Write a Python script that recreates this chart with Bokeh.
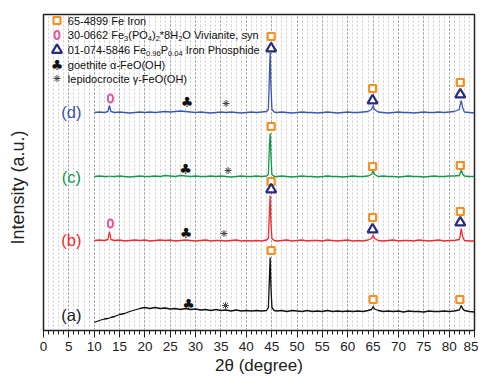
from bokeh.plotting import figure
from bokeh.models import Range1d, SingleIntervalTicker
from bokeh.core.properties import value
from bokeh.embed import file_html
from bokeh.resources import INLINE

FONT = "Liberation Sans"

# 2-theta sample positions (degree)
two_theta = [10, 11, 12, 12.7, 13.0, 13.3,
             14, 15, 16, 17, 18, 19, 20, 21, 22, 23, 24, 25, 26, 27, 28, 29, 30,
             31, 32, 33, 34, 35, 36, 37, 38, 39, 40, 41, 42, 43, 44,
             44.35, 44.55, 44.7, 44.85, 45.05, 45.5,
             46, 47, 48, 49, 50, 51, 52, 53, 54, 55, 56, 57, 58, 59, 60, 61, 62, 63, 64,
             64.7, 65.0, 65.3,
             66, 67, 68, 69, 70, 71, 72, 73, 74, 75, 76, 77, 78, 79, 80, 81, 82,
             82.15, 82.4, 82.65,
             83, 84, 85]

# intensities (a.u., offset stacked)
int_a = [8, 10, 11.5, 12, 12.5, 13,
         14, 16, 17, 19, 20.5, 22, 23, 22, 23, 22, 22.5, 21.5, 22, 21, 22, 21, 21.5,
         20.5, 21, 20, 21, 20, 20.5, 19.5, 20.5, 19.5, 20, 19.5, 20, 19.5, 20,
         23, 52, 73, 44, 23, 20,
         19.5, 20, 19, 20, 19.5, 19, 20, 19, 19.5, 19, 20, 19, 19.5, 19, 19.5, 19, 19.5, 19, 20,
         21, 24, 21.5,
         20, 19, 19.5, 19, 19.5, 18.5, 19.5, 19, 19, 18.5, 19.5, 19, 19, 19.5, 19, 19.5, 20.5,
         22, 25, 22,
         20, 19, 18.5]

int_b = [90, 90.5, 90, 91, 99, 91,
         90, 90.5, 89.5, 90, 90.5, 90, 90.5, 89.5, 90, 90.5, 90, 90.5, 89.5, 90, 90.5, 90, 89.5,
         90, 90.5, 89.5, 90, 90, 89.5, 90, 90.5, 89.5, 90, 89.5, 90, 89.5, 90.5,
         92, 118, 135, 108, 92, 90,
         89.5, 90, 90.5, 89.5, 90, 90.5, 89.5, 90, 90, 89.5, 90.5, 90, 89.5, 90, 90.5, 89.5, 90, 89.5, 90.5,
         92, 95.5, 92,
         90, 89.5, 90, 90.5, 89.5, 90, 90, 89.5, 90.5, 90, 89.5, 90, 90.5, 89.5, 90, 90, 91,
         94, 102, 94,
         90, 89.5, 89.5]

int_c = [154, 154.5, 154, 154, 154.5, 154,
         154, 154.5, 154, 153.5, 154, 154.5, 154, 154, 154.5, 154, 155, 154.5, 154, 155, 154.5, 154, 154.5,
         154, 154, 154.5, 154, 154.5, 154, 153.5, 154, 154.5, 154, 154, 154.5, 154, 154.5,
         156, 185, 197, 175, 156, 154,
         154, 154.5, 154, 153.5, 154, 154.5, 154, 154, 153.5, 154, 154.5, 154, 154, 153.5, 154, 154.5, 154, 154, 154.5,
         156, 160, 156,
         154, 154.5, 154, 154, 153.5, 154, 154.5, 154, 154, 153.5, 154, 154.5, 154, 154, 154.5, 154.5, 155,
         157, 160.5, 156.5,
         154.5, 154, 154]

int_d = [218, 218.5, 218, 219, 225, 219,
         218, 218.5, 218, 217.5, 218, 218.5, 218, 218.5, 218, 218.5, 219, 218.5, 219, 219.5, 219, 218.5, 218,
         218.5, 218, 217.5, 218, 218.5, 218, 218.5, 218, 217.5, 218, 218.5, 218, 218.5, 219,
         221, 255, 278, 245, 221, 218.5,
         218, 218.5, 218, 217.5, 218, 218.5, 218, 218, 217.5, 218, 218.5, 218, 217.5, 218, 218.5, 218, 218, 218.5, 219,
         221, 225, 221,
         218.5, 218, 217.5, 218, 218.5, 218, 218, 217.5, 218, 218.5, 218, 218, 218.5, 218, 218.5, 219, 221,
         225, 230, 223,
         218.5, 218, 217.5]

series_names = ["(a)", "(b)", "(c)", "(d)"]
series_colors = ["#111111", "#f02a2e", "#13994a", "#3a58b0"]
label_colors = ["#222222", "#ee2b2f", "#13984b", "#3a55a5"]
label_x = [5.5, 5.5, 5.5, 5.5]
label_y = [16, 91, 154, 219]

# phase markers
fe_x = [44.9, 64.9, 82.2, 44.9, 64.9, 82.2, 44.9, 64.9, 82.2, 44.9, 65.0, 82.1]
fe_y = [294, 242, 248, 204, 164, 165, 149, 113, 119, 80, 31, 31]
fep_x = [44.9, 64.9, 82.2, 44.9, 64.9, 82.2]
fep_y = [282, 230, 236, 141, 101, 108]
viv_x = [13.2, 13.2]
viv_y = [232, 107]
goe_x = [28.3, 28.0, 28.1, 28.6]
goe_y = [229, 162, 98, 27]
lep_x = [36.0, 36.4, 35.6, 35.9]
lep_y = [227, 160, 97, 25]

# legend rows: (text, is_subscript) pieces
legend_rows = [
    [("65-4899 Fe Iron", False)],
    [("30-0662 Fe", False), ("3", True), ("(PO", False), ("4", True), (")", False),
     ("2", True), ("*8H", False), ("2", True), ("O Vivianite, syn", False)],
    [("01-074-5846 Fe", False), ("0.96", True), ("P", False), ("0.04", True),
     (" Iron Phosphide", False)],
    [("goethite \u03b1-FeO(OH)", False)],
    [("lepidocrocite \u03b3-FeO(OH)", False)],
]
legend_y = [310, 295.5, 280.5, 266, 252]
legend_mx = 2.66
legend_tx = 4.8

ORANGE = "#f7901e"
PINK = "#e6559f"
NAVY = "#262b80"

MAIN_PX = 11.0
SUB_PX = 7.5
PX_PER_DEG = 431 / 85.0

# Arial / Liberation Sans advance widths (1/1000 em)
AW = {' ': 278, '(': 333, ')': 333, '*': 389, ',': 278, '-': 333, '.': 278,
      'F': 611, 'H': 722, 'I': 278, 'O': 778, 'P': 667, 'V': 667,
      'a': 556, 'e': 556, 'h': 556, 'i': 222, 'n': 556, 'o': 556, 'p': 556,
      'r': 333, 's': 500, 't': 278, 'v': 500, 'y': 500, 'd': 556}


def adv(s, px):
    return sum(AW.get(ch, 556) for ch in s) / 1000.0 * px


main_x, main_y, main_t, sub_x, sub_y, sub_t = [], [], [], [], [], []
for row, ry in zip(legend_rows, legend_y):
    cur = 0.0
    for txt, is_sub in row:
        px = SUB_PX if is_sub else MAIN_PX
        lead = len(txt) - len(txt.lstrip(' '))
        cur += adv(txt[:lead], px)
        body = txt[lead:]
        xx = legend_tx + cur / PX_PER_DEG
        if is_sub:
            sub_x.append(xx); sub_y.append(ry - 3.5); sub_t.append(body)
        else:
            main_x.append(xx); main_y.append(ry); main_t.append(body)
        cur += adv(body, px)

p = figure(frame_width=431, frame_height=316,
           min_border_left=43, min_border_right=4, min_border_top=14, min_border_bottom=10,
           x_range=Range1d(0, 85), y_range=Range1d(0, 316),
           output_backend="svg", toolbar_location=None)
p.background_fill_color = "white"
p.border_fill_color = "white"
p.outline_line_color = "#222222"
p.outline_line_width = 1.5
p.outline_line_alpha = 1

p.ygrid.visible = False
yax = p.yaxis[0]
yax.ticker = []
yax.major_tick_line_color = None
yax.minor_tick_line_color = None
yax.major_label_text_font_size = "0px"
yax.axis_line_color = "#222222"
yax.axis_label = "Intensity (a.u.)" + "\u00a0" * 6
yax.axis_label_text_font = FONT
yax.axis_label_text_font_size = "18px"
yax.axis_label_text_font_style = "normal"
yax.axis_label_text_color = "#222222"
yax.axis_label_standoff = 16

tk = SingleIntervalTicker(interval=5, num_minor_ticks=5)
p.xaxis.ticker = tk
p.xgrid.ticker = tk
p.xgrid.grid_line_color = "#9a9a9a"
p.xgrid.grid_line_dash = "2 2"
p.xgrid.grid_line_alpha = 1
p.xgrid.minor_grid_line_color = "#cfcfcf"
p.xgrid.minor_grid_line_dash = "2 2"

ax = p.xaxis[0]
ax.axis_line_color = "#222222"
ax.axis_line_width = 1.2
ax.major_tick_line_color = "#222222"
ax.minor_tick_line_color = "#222222"
ax.major_tick_in = 0
ax.major_tick_out = 7
ax.minor_tick_in = 0
ax.minor_tick_out = 4
ax.major_label_text_font = FONT
ax.major_label_text_font_size = "13.5px"
ax.major_label_text_color = "#222222"
ax.major_label_standoff = 4
ax.axis_label = "2\u03b8 (degree)"
ax.axis_label_text_font = FONT
ax.axis_label_text_font_size = "17px"
ax.axis_label_text_font_style = "normal"
ax.axis_label_text_color = "#222222"
ax.axis_label_standoff = 2

for ys, col in zip([int_a, int_b, int_c, int_d], series_colors):
    p.line(two_theta, ys, line_color=col, line_width=1.3)

p.text(x=label_x, y=label_y, text=series_names, text_color=label_colors,
       text_font=value(FONT), text_font_size="16.5px",
       text_align="center", text_baseline="middle")

# markers on the patterns
p.scatter(fe_x, fe_y, marker="square", size=7, line_color=ORANGE, line_width=2.2, fill_color="white")
p.scatter(fep_x, fep_y, marker="triangle", size=10, line_color=NAVY, line_width=2.2, fill_color="white")
p.ellipse(viv_x, viv_y, width=5, height=8, width_units="screen", height_units="screen",
          line_color=PINK, line_width=2, fill_color="white")
p.text(x=goe_x, y=goe_y, text=["\u2663"] * len(goe_x), text_color="#111111",
       text_font=value("DejaVu Sans"), text_font_size="14px",
       text_align="center", text_baseline="middle")
p.scatter(lep_x, lep_y, marker="asterisk", size=7, line_color="#444444", line_width=1)

# legend
p.scatter([legend_mx], [legend_y[0]], marker="square", size=7, line_color=ORANGE, line_width=2.2, fill_color="white")
p.ellipse([legend_mx], [legend_y[1]], width=5, height=8, width_units="screen", height_units="screen",
          line_color=PINK, line_width=2, fill_color="white")
p.scatter([legend_mx], [legend_y[2]], marker="triangle", size=10, line_color=NAVY, line_width=2.2, fill_color="white")
p.text(x=[legend_mx], y=[legend_y[3]], text=["\u2663"], text_color="#111111",
       text_font=value("DejaVu Sans"), text_font_size="14px",
       text_align="center", text_baseline="middle")
p.scatter([legend_mx], [legend_y[4]], marker="asterisk", size=7, line_color="#444444", line_width=1)
p.text(x=main_x, y=main_y, text=main_t, text_color="#111111",
       text_font=value(FONT), text_font_size="%spx" % MAIN_PX,
       text_align="left", text_baseline="middle")
p.text(x=sub_x, y=sub_y, text=sub_t, text_color="#111111",
       text_font=value(FONT), text_font_size="%spx" % SUB_PX,
       text_align="left", text_baseline="middle")

open("out.html", "w").write(file_html(p, INLINE))
